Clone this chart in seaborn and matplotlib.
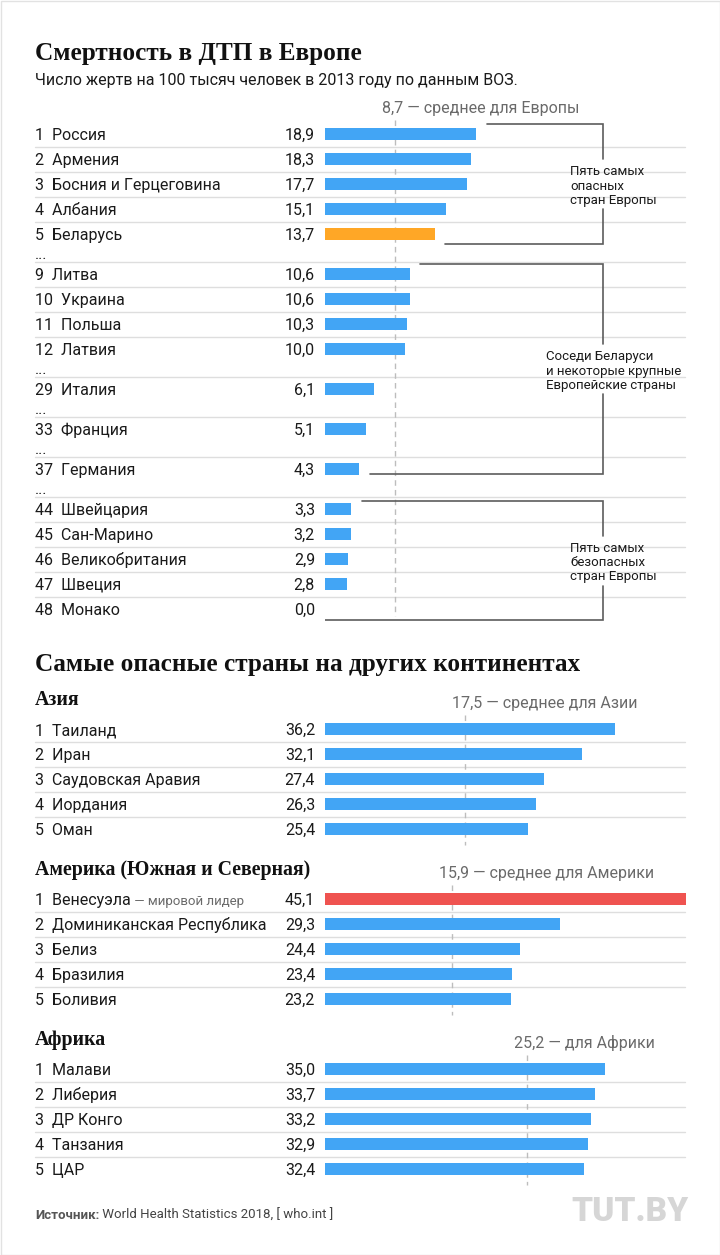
import matplotlib
matplotlib.use("Agg")
import matplotlib.pyplot as plt
import pandas as pd
import seaborn as sns
from matplotlib import font_manager
from matplotlib.patches import Rectangle

# --- data -------------------------------------------------------------
eu_rank = [1, 2, 3, 4, 5, 9, 10, 11, 12, 29, 33, 37, 44, 45, 46, 47, 48]
eu_country = ["Россия", "Армения", "Босния и Герцеговина", "Албания", "Беларусь",
              "Литва", "Украина", "Польша", "Латвия", "Италия", "Франция", "Германия",
              "Швейцария", "Сан-Марино", "Великобритания", "Швеция", "Монако"]
eu_value = [18.9, 18.3, 17.7, 15.1, 13.7, 10.6, 10.6, 10.3, 10.0,
            6.1, 5.1, 4.3, 3.3, 3.2, 2.9, 2.8, 0.0]
eu_mean = 8.7
eu_dots_after = [5, 12, 29, 33, 37]  # ranks followed by "..."

asia_country = ["Таиланд", "Иран", "Саудовская Аравия", "Иордания", "Оман"]
asia_value = [36.2, 32.1, 27.4, 26.3, 25.4]
asia_mean = 17.5

am_country = ["Венесуэла", "Доминиканская Республика", "Белиз", "Бразилия", "Боливия"]
am_value = [45.1, 29.3, 24.4, 23.4, 23.2]
am_mean = 15.9

af_country = ["Малави", "Либерия", "ДР Конго", "Танзания", "ЦАР"]
af_value = [35.0, 33.7, 33.2, 32.9, 32.4]
af_mean = 25.2

title1 = "Смертность в ДТП в Европе"
subtitle1 = "Число жертв на 100 тысяч человек в 2013 году по данным ВОЗ."
title2 = "Самые опасные страны на других континентах"

BLUE, ORANGE, RED = "#42a5f5", "#ffa726", "#ef5350"
GRID, MEANC, BRK, GRAY = "#dedede", "#bdbdbd", "#5c5c5c", "#6a6a6a"

sns.set_theme(style="white")
names = {f.name for f in font_manager.fontManager.ttflist}
SANS = "Roboto" if "Roboto" in names else "DejaVu Sans"
SERIF = "Liberation Serif" if "Liberation Serif" in names else "DejaVu Serif"
plt.rcParams["font.family"] = [SANS, "DejaVu Sans"]

W, H = 720, 1255
X0, X1, XMAX = 325, 686, 45.1
fig = plt.figure(figsize=(W / 100, H / 100), dpi=100)
ov = fig.add_axes([0, 0, 1, 1])
ax = fig.add_axes([X0 / W, 0, (X1 - X0) / W, 1])

# --- row positions ----------------------------------------------------
eu_y = []
y = 134
for r in eu_rank:
    eu_y.append(y)
    y += 25 + (15 if r in eu_dots_after else 0)

blocks = [("Азия", asia_country, asia_value, asia_mean, 729, "17,5 — среднее для Азии"),
          ("Америка (Южная и Северная)", am_country, am_value, am_mean, 899,
           "15,9 — среднее для Америки"),
          ("Африка", af_country, af_value, af_mean, 1069, "25,2 — для Африки")]

rows = []
for name, v, yy in zip(eu_country, eu_value, eu_y):
    rows.append({"value": v, "y": yy, "kind": "bel" if name == "Беларусь" else "base"})
for hdr, cs, vs, m, y0, _ in blocks:
    for i, (c, v) in enumerate(zip(cs, vs)):
        rows.append({"value": v, "y": y0 + 25 * i,
                     "kind": "lead" if c == "Венесуэла" else "base"})
df = pd.DataFrame(rows)

sns.barplot(data=df, x="value", y="y", hue="kind", orient="h", native_scale=True,
            palette={"base": BLUE, "bel": ORANGE, "lead": RED}, width=0.48,
            dodge=False, legend=False, errorbar=None, saturation=1, linewidth=0, ax=ax)
ax.set_xlim(0, XMAX)
ax.set_ylim(H, 0)
ax.axis("off")
ax.patch.set_alpha(0)
ov.set_xlim(0, W)
ov.set_ylim(H, 0)
ov.axis("off")

fmt = lambda v: f"{v:.1f}".replace(".", ",")
LBL = 11.5


def row_texts(ranks, countries, values, ys):
    for i, (r, c, v, yy) in enumerate(zip(ranks, countries, values, ys)):
        t = ov.text(35, yy + 6, f"{r}  {c}", fontsize=LBL, color="#1a1a1a", va="baseline")
        ov.text(315, yy + 6, fmt(v), fontsize=LBL, color="#1a1a1a", ha="right", va="baseline")
        if i > 0:
            ov.plot([35, 685], [yy - 12.5, yy - 12.5], color=GRID, lw=1, zorder=0)
        if c == "Венесуэла":
            ov.annotate(" — мировой лидер", xy=(1, yy + 6), xycoords=(t, ov.transData),
                        xytext=(1, yy + 6), textcoords=(t, ov.transData),
                        fontsize=9.5, color=GRAY, va="baseline")


def mean_line(m, y_top, y_bot, label):
    ax.plot([m, m], [y_top, y_bot], color=MEANC, lw=1, ls=(0, (4, 3)), zorder=0.5)
    ax.annotate(label, xy=(m, y_top - 7), xytext=(-13, 0), textcoords="offset pixels",
                fontsize=LBL, color=GRAY, va="baseline", ha="left")


# --- Europe -----------------------------------------------------------
ov.text(35, 60, title1, family=SERIF, fontweight="bold", fontsize=18.2, color="#111")
ov.text(35, 85, subtitle1, fontsize=11.5, color="#1a1a1a")
row_texts(eu_rank, eu_country, eu_value, eu_y)
for r, yy in zip(eu_rank, eu_y):
    if r in eu_dots_after:
        ov.text(35, yy + 25, "...", fontsize=LBL, color="#1a1a1a", va="baseline")
mean_line(eu_mean, eu_y[0] - 14, eu_y[-1] + 7, "8,7 — среднее для Европы")

BX = (603 - X0) / ((X1 - X0) / XMAX)


def bracket(x_top, y_top, x_bot, y_bot, text, tx):
    mid = (y_top + y_bot) / 2
    kw = dict(color=BRK, lw=1.2, solid_joinstyle="miter", zorder=3)
    ax.plot([x_top, BX, BX], [y_top, y_top, mid - 25], **kw)
    ax.plot([BX, BX, x_bot], [mid + 25, y_bot, y_bot], **kw)
    ov.text(tx, mid + 2, text, fontsize=9.5, color="#1a1a1a", va="center",
            ha="left", linespacing=1.12)


bracket(eu_value[0] + 1.3, eu_y[0] - 10, eu_value[4] + 1.3, eu_y[4] + 10,
        "Пять самых\nопасных\nстран Европы", 570)
bracket(eu_value[5] + 1.3, eu_y[5] - 10, eu_value[11] + 1.3, eu_y[11] + 5,
        "Соседи Беларуси\nи некоторые крупные\nЕвропейские страны", 546)
bracket(eu_value[12] + 1.3, eu_y[12] - 8, 0, eu_y[16] + 11,
        "Пять самых\nбезопасных\nстран Европы", 570)

# --- other continents -------------------------------------------------
ov.text(35, 671, title2, family=SERIF, fontweight="bold", fontsize=18.2, color="#111")
for hdr, cs, vs, m, y0, lab in blocks:
    ys = [y0 + 25 * i for i in range(len(cs))]
    ov.text(35, y0 - 24, hdr, family=SERIF, fontweight="bold", fontsize=14.3, color="#111",
            va="baseline")
    row_texts(range(1, len(cs) + 1), cs, vs, ys)
    mean_line(m, y0 - 14, ys[-1] + 16, lab)

# --- footer -----------------------------------------------------------
src = ov.text(35, 1219, "Источник:", fontsize=9.5, fontweight="bold", color="#555",
              va="baseline")
ov.annotate(" World Health Statistics 2018, [ who.int ]", xy=(1, 1219),
            xycoords=(src, ov.transData), xytext=(1, 1219),
            textcoords=(src, ov.transData), fontsize=9.5, color="#444", va="baseline")
ov.text(689, 1221, "TUT.BY", fontsize=24, fontweight="black", color="#d6d6d6",
        ha="right", va="baseline")
ov.add_patch(Rectangle((0.5, 0.5), W - 1, H - 1, fill=False, ec="#e2e2e2", lw=1))

fig.savefig("out.png", dpi=100)
